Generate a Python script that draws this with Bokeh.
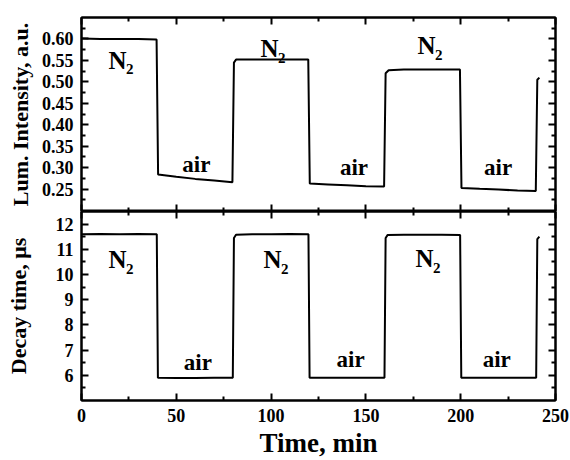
from bokeh.plotting import figure
from bokeh.layouts import column
from bokeh.models import LinearAxis, FixedTicker, NumeralTickFormatter
from bokeh.core.properties import value
from bokeh.embed import file_html
from bokeh.resources import INLINE

FONT = "Liberation Serif"

# ---- data: luminescence intensity (top panel) ----
t_lum = [0, 10, 20, 30, 39.6, 40.4, 50, 60, 70, 79.6, 80.4, 81.5, 90, 100, 110, 119.6, 120.4,
         130, 140, 150, 159.6, 160.4, 162, 170, 180, 190, 199.6, 200.4, 210, 220, 230, 239.6,
         240.4, 241.5]
lum = [0.601, 0.600, 0.600, 0.600, 0.599, 0.284, 0.279, 0.274, 0.270, 0.266, 0.545, 0.552,
       0.552, 0.552, 0.552, 0.552, 0.263, 0.261, 0.259, 0.257, 0.256, 0.520, 0.527, 0.529,
       0.529, 0.529, 0.529, 0.253, 0.251, 0.249, 0.247, 0.246, 0.505, 0.510]

# ---- data: decay time (bottom panel) ----
t_dec = [0, 10, 20, 30, 39.7, 40.3, 50, 60, 70, 79.8, 80.4, 81.5, 90, 100, 110, 119.7, 120.3,
         130, 140, 150, 159.8, 160.4, 161.5, 170, 180, 190, 199.7, 200.3, 210, 220, 230, 239.8,
         240.4, 241.5]
dec = [11.60, 11.61, 11.60, 11.61, 11.60, 5.90, 5.89, 5.89, 5.90, 5.90, 11.45, 11.58,
       11.60, 11.60, 11.61, 11.60, 5.90, 5.90, 5.90, 5.90, 5.90, 11.45, 11.57, 11.58,
       11.58, 11.58, 11.57, 5.90, 5.90, 5.90, 5.90, 5.90, 11.40, 11.50]

# ---- annotation positions (data coords) ----
n2_top_x = [14.2, 94.4, 177.2]
n2_top_y = [0.532, 0.558, 0.566]
air_top_x = [60.6, 143.7, 219.7]
air_top_y = [0.292, 0.285, 0.285]
n2_bot_x = [14.2, 96.0, 176.2]
n2_bot_y = [10.26, 10.26, 10.30]
air_bot_x = [61.4, 141.9, 219.0]
air_bot_y = [6.25, 6.35, 6.35]

x_major = [0, 50, 100, 150, 200, 250]
x_minor = [25, 75, 125, 175, 225]
lum_major = [0.25, 0.30, 0.35, 0.40, 0.45, 0.50, 0.55, 0.60]
lum_minor = [0.225, 0.275, 0.325, 0.375, 0.425, 0.475, 0.525, 0.575, 0.625]
dec_major = [6, 7, 8, 9, 10, 11, 12]
dec_minor = [5.5, 6.5, 7.5, 8.5, 9.5, 10.5, 11.5]


def style_axis(ax, labels=True):
    ax.axis_line_width = 2
    ax.axis_line_color = "black"
    ax.major_tick_in = 7
    ax.major_tick_out = 0
    ax.minor_tick_in = 4
    ax.minor_tick_out = 0
    ax.major_tick_line_width = 2
    ax.minor_tick_line_width = 2
    if labels:
        ax.major_label_text_font = FONT
        ax.major_label_text_font_style = "bold"
        ax.major_label_text_font_size = "18px"
        ax.major_label_text_color = "black"
        ax.major_label_standoff = 8
        ax.axis_label_text_font = FONT
        ax.axis_label_text_font_style = "bold"
        ax.axis_label_text_color = "black"
    else:
        ax.major_label_overrides = {t: "" for t in ax.ticker.ticks}
        ax.major_label_standoff = 0


def make_fig(height, yr, top, bottom):
    p = figure(width=570, height=height, x_range=(0, 250), y_range=yr,
               x_axis_type=None, y_axis_type=None, toolbar_location=None,
               output_backend="svg", min_border_left=81, min_border_right=15,
               min_border_top=top, min_border_bottom=bottom)
    p.grid.visible = False
    p.outline_line_color = "black"
    p.outline_line_width = 2
    p.background_fill_color = "white"
    p.border_fill_color = "white"
    return p


def add_labels(p, nx, ny, ax_, ay):
    common = dict(text_font=value(FONT), text_font_style="bold", text_baseline="alphabetic",
                  text_color="black")
    p.text(nx, ny, text=["N"] * len(nx), text_font_size="25px", text_align="left",
           y_offset=-8, **common)
    p.text(nx, ny, text=["2"] * len(nx), text_font_size="15px", text_align="left",
           x_offset=17.5, y_offset=1, **common)
    p.text(ax_, ay, text=["air"] * len(ax_), text_font_size="23px", text_align="center",
           y_offset=-7, **common)


# ---------- top panel ----------
p1 = make_fig(211, (0.198, 0.65), 17, 0)
yl = LinearAxis(ticker=FixedTicker(ticks=lum_major, minor_ticks=lum_minor),
                axis_label="Lum. Intensity, a.u.")
style_axis(yl)
yl.axis_label_text_font_size = "22px"
yl.axis_label_standoff = 6
yl.formatter = NumeralTickFormatter(format="0.00")
p1.add_layout(yl, "left")
for loc, tk, mn in (("right", lum_major, lum_minor), ("above", x_major, x_minor),
                    ("below", x_major, x_minor)):
    ax = LinearAxis(ticker=FixedTicker(ticks=tk, minor_ticks=mn))
    style_axis(ax, labels=False)
    p1.add_layout(ax, loc)

p1.line(t_lum, lum, line_color="black", line_width=2)
add_labels(p1, n2_top_x, n2_top_y, air_top_x, air_top_y)

# ---------- bottom panel ----------
p2 = make_fig(249, (5.0, 12.5), 0, 57)
yl2 = LinearAxis(ticker=FixedTicker(ticks=dec_major, minor_ticks=dec_minor),
                 axis_label="Decay time, μs")
style_axis(yl2)
yl2.axis_label_text_font_size = "22px"
yl2.axis_label_standoff = 22
p2.add_layout(yl2, "left")
for loc, tk, mn in (("right", dec_major, dec_minor), ("above", x_major, x_minor)):
    ax = LinearAxis(ticker=FixedTicker(ticks=tk, minor_ticks=mn))
    style_axis(ax, labels=False)
    p2.add_layout(ax, loc)
xb2 = LinearAxis(ticker=FixedTicker(ticks=x_major, minor_ticks=x_minor), axis_label="Time, min")
style_axis(xb2)
xb2.axis_label_text_font_size = "27px"
xb2.axis_label_standoff = 3
p2.add_layout(xb2, "below")

p2.line(t_dec, dec, line_color="black", line_width=2)
add_labels(p2, n2_bot_x, n2_bot_y, air_bot_x, air_bot_y)

layout = column(p1, p2, spacing=0)
open("out.html", "w").write(file_html(layout, INLINE))
